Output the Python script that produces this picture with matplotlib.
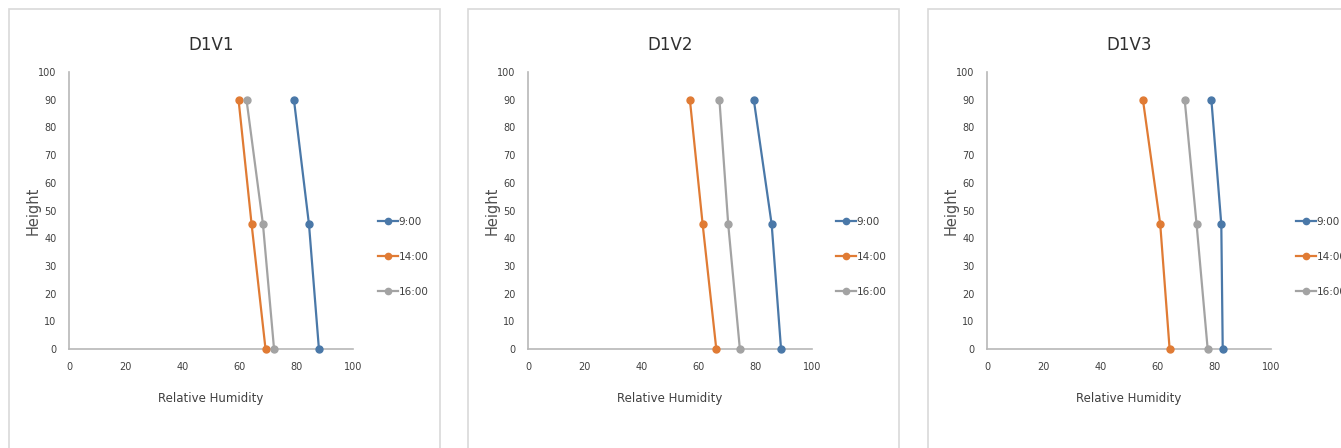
import matplotlib
matplotlib.use("Agg")
import matplotlib.pyplot as plt
from matplotlib.patches import Rectangle

# height levels (y) and relative humidity per time of day (x)
heights = [90, 45, 0]
times = ["9:00", "14:00", "16:00"]
titles = ["D1V1", "D1V2", "D1V3"]

rh_d1v1 = {"9:00": [79.2, 84.5, 88.0], "14:00": [59.7, 64.3, 69.2], "16:00": [62.5, 68.3, 72.2]}
rh_d1v2 = {"9:00": [79.5, 85.8, 89.1], "14:00": [57.0, 61.5, 66.3], "16:00": [67.4, 70.5, 74.6]}
rh_d1v3 = {"9:00": [79.0, 82.5, 83.0], "14:00": [54.9, 61.0, 64.3], "16:00": [69.6, 73.8, 77.7]}
panels = [rh_d1v1, rh_d1v2, rh_d1v3]

colors = {"9:00": "#4a78a8", "14:00": "#e07b34", "16:00": "#a3a3a3"}
xticks = [0, 20, 40, 60, 80, 100]
yticks = list(range(0, 101, 10))

W, H = 1341, 448
fig = plt.figure(figsize=(W / 100, H / 100), dpi=100)

# pixel layout of each chart box / plot area / legend
boxes = [(9, 440), (468, 899), (928, 1345)]
plot_left = [69, 528, 987]
legend_x = [373, 831, 1291]

def fx(px):
    return px / W

def fy(py):
    return 1 - py / H

for i, data in enumerate(panels):
    b0, b1 = boxes[i]
    fig.patches.append(Rectangle((fx(b0), fy(460)), fx(b1 - b0), (460 - 9) / H,
                                 transform=fig.transFigure, fill=False,
                                 edgecolor="#d9d9d9", linewidth=1.2))

    ax = fig.add_axes([fx(plot_left[i]), fy(349), 284 / W, 277 / H])
    for t in times:
        ax.plot(data[t], heights, color=colors[t], marker="o", markersize=5,
                linewidth=1.6, label=t, clip_on=False, zorder=3)
    ax.set_xlim(0, 100)
    ax.set_ylim(0, 100)
    ax.set_xticks(xticks)
    ax.set_yticks(yticks)
    for s in ["top", "right"]:
        ax.spines[s].set_visible(False)
    for s in ["left", "bottom"]:
        ax.spines[s].set_color("#b8b8b8")
        ax.spines[s].set_linewidth(1.2)
    ax.tick_params(length=0, pad=9, labelcolor="#404040", labelsize=7)

    ax.set_title(titles[i], fontsize=12, color="#303030", pad=16)
    ax.set_xlabel("Relative Humidity", fontsize=8.5, color="#404040", labelpad=15)
    ax.set_ylabel("Height", fontsize=10.5, color="#505050", labelpad=-2)

    ax.legend(loc="center left", bbox_to_anchor=(fx(legend_x[i]), fy(257)),
              bbox_transform=fig.transFigure, frameon=False, borderpad=0,
              labelspacing=2.4, handlelength=1.9, handletextpad=0.05,
              fontsize=7.5, markerscale=0.9, labelcolor="#404040")

fig.savefig("out.png", dpi=100)
